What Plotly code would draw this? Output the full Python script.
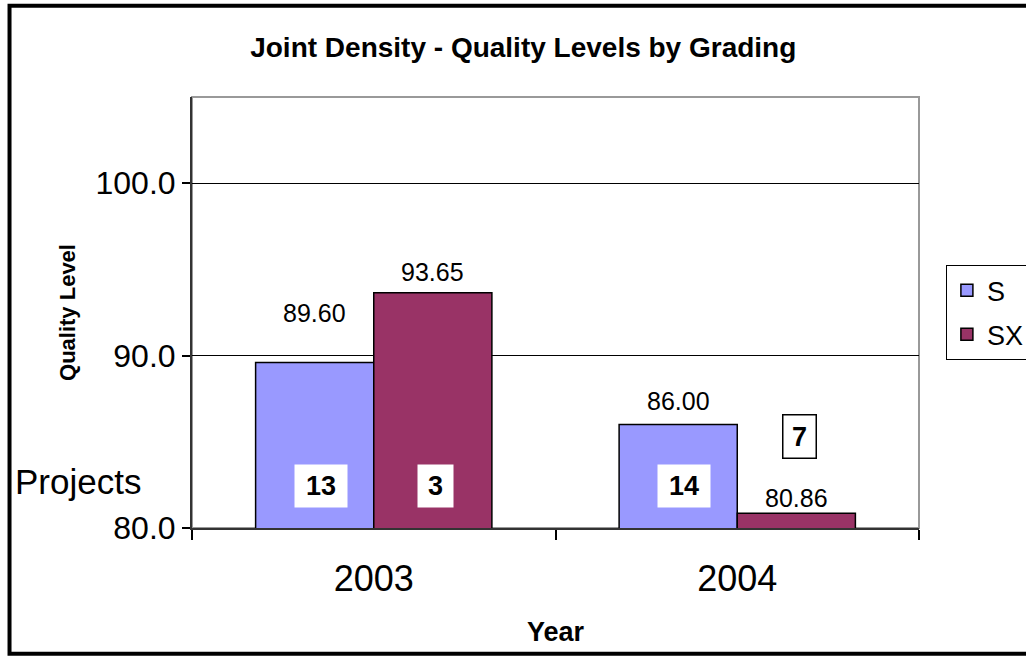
import plotly.graph_objects as go

years = ["2003", "2004"]
s_values = [89.60, 86.00]
sx_values = [93.65, 80.86]
s_projects = [13, 14]
sx_projects = [3, 7]

FONT = "Liberation Sans, Arial, sans-serif"
S_COLOR = "#9999FF"
SX_COLOR = "#993366"

# label offsets (pixels above bar top), as placed in the original chart
s_label_shift = [50, 24]
sx_label_shift = [21, 15]

fig = go.Figure()
fig.add_trace(go.Bar(
    name="S", x=years, y=s_values, legendgroup="s",
    marker=dict(color=S_COLOR, line=dict(color="black", width=1.5)),
))
fig.add_trace(go.Bar(
    name="SX", x=years, y=sx_values, legendgroup="sx",
    marker=dict(color=SX_COLOR, line=dict(color="black", width=1.5)),
))

# annotations on a category axis use the category index
label_font = dict(size=25, color="black", family=FONT)
for i, yr in enumerate(years):
    fig.add_annotation(x=i, y=s_values[i], xshift=-59, yshift=s_label_shift[i],
                       text=f"{s_values[i]:.2f}", showarrow=False, font=label_font)
    fig.add_annotation(x=i, y=sx_values[i], xshift=59, yshift=sx_label_shift[i],
                       text=f"{sx_values[i]:.2f}", showarrow=False, font=label_font)

# project count boxes
box_font = dict(size=27, color="black", family=FONT)
for i, yr in enumerate(years):
    fig.add_annotation(x=i, xshift=-53, y=82.43, text=f"<b>{s_projects[i]}</b>",
                       showarrow=False, bgcolor="white", font=box_font,
                       width=50, height=40)
for i, yr in enumerate(years):
    if sx_values[i] > 84:
        fig.add_annotation(x=i, xshift=62, y=82.43, text=f"<b>{sx_projects[i]}</b>",
                           showarrow=False, bgcolor="white", font=box_font,
                           width=33, height=40)
    else:
        fig.add_annotation(x=i, xshift=62, y=85.28, text=f"<b>{sx_projects[i]}</b>",
                           showarrow=False, bgcolor="white", bordercolor="black", borderwidth=1.5,
                           font=box_font, width=30, height=40, borderpad=1)

fig.add_annotation(xref="paper", yref="paper", x=-0.157, y=0.108, xanchor="center", yanchor="middle",
                   text="Projects", showarrow=False, font=dict(size=35, color="black", family=FONT))

# plot area frame (gray) and outer chart border
fig.add_shape(type="rect", xref="paper", yref="paper", x0=0, x1=1, y0=0, y1=1,
              line=dict(color="#999999", width=2), layer="below")
fig.add_shape(type="rect", xref="paper", yref="paper", x0=-0.251, x1=1.3, y0=-0.292, y1=1.212,
              line=dict(color="black", width=4), layer="below")

fig.update_layout(
    width=1026, height=657,
    margin=dict(l=192, r=107, t=97, b=129, autoexpand=False),
    paper_bgcolor="white", plot_bgcolor="white",
    barmode="group", bargap=0.35, bargroupgap=0,
    font=dict(family=FONT, color="black"),
    title=dict(text="<b>Joint Density - Quality Levels by Grading</b>", x=0.51, xanchor="center",
               y=0.928, yanchor="middle", font=dict(size=28, color="black", family=FONT)),
    legend=dict(x=1.037, y=0.61, xanchor="left", yanchor="top", bordercolor="black", borderwidth=1,
                bgcolor="white", font=dict(size=27, color="black", family=FONT),
                itemwidth=30, tracegroupgap=6, traceorder="grouped"),
    showlegend=True,
)
fig.update_xaxes(
    type="category", range=[-0.5, 1.5],
    showline=True, linecolor="#333333", linewidth=2,
    ticks="outside", tickson="boundaries", ticklen=10, tickcolor="black", tickwidth=1.5,
    tickfont=dict(size=36, color="black", family=FONT), ticklabelstandoff=18,
    title=dict(text="<b>Year</b>", font=dict(size=27, color="black", family=FONT), standoff=24),
    showgrid=False,
)
fig.update_yaxes(
    range=[80, 105], dtick=10, tick0=80, tickformat=".1f",
    showline=True, linecolor="#333333", linewidth=2,
    ticks="outside", ticklen=8, tickcolor="black", tickwidth=1.5,
    tickfont=dict(size=32, color="black", family=FONT),
    showgrid=True, gridcolor="black", gridwidth=1, zeroline=False,
    title=dict(text="<b>Quality Level</b>", font=dict(size=22, color="black", family=FONT), standoff=14),
)

fig.write_html("out.html", config={"displayModeBar": False},
               post_script="document.body.style.margin='0px';")
